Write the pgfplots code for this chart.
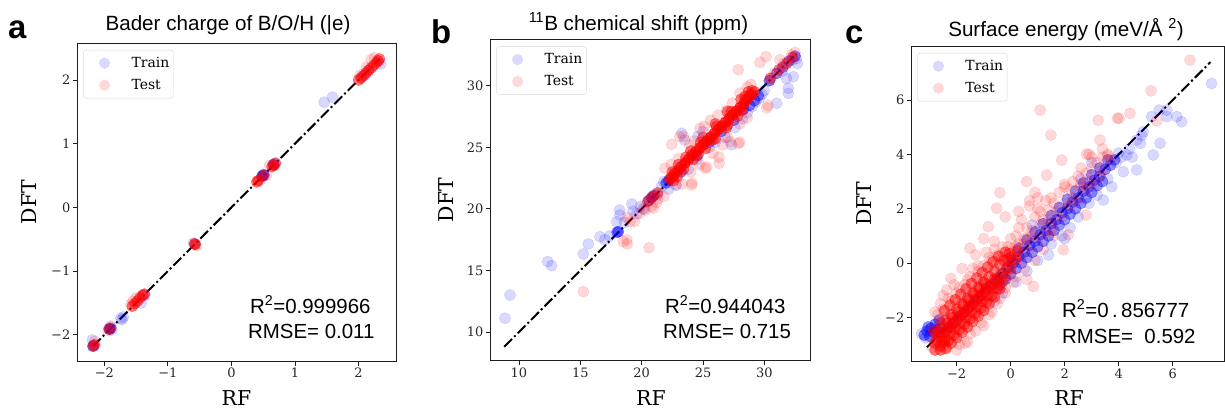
\documentclass[border=0pt]{standalone}
\usepackage{pgfplots}
\pgfplotsset{compat=1.18}
\usepackage{fontspec}
\setmainfont{DejaVu Serif}
\newfontfamily\sansf{Liberation Sans}
\definecolor{spine}{RGB}{30,30,30}
\pgfplotsset{
  panel/.style={
    scale only axis,
    axis line style={line width=0.9bp, spine},
    every tick/.style={line width=0.9bp, spine},
    tick align=outside,
    major tick length=4.5bp,
    xtick pos=lower, ytick pos=left,
    tick label style={font=\fontsize{13}{13}\selectfont, text=black!85, inner sep=2bp},
    xlabel style={font=\fontsize{20.5}{20.5}\selectfont, anchor=base},
    ylabel style={font=\fontsize{20.5}{20.5}\selectfont, anchor=base},
    legend cell align=left,
    legend style={at={(0.02,0.978)}, anchor=north west, draw=black!15, rounded corners=2.5bp,
      fill=white, font=\fontsize{14}{14}\selectfont, inner xsep=2bp, inner ysep=2bp, row sep=0bp},
  },
  mk/.style={only marks, mark=*, mark size=5.6bp, forget plot},
  trs/.style={mk, color=blue, mark options={line width=0.4bp, opacity=0.15}},
  trc/.style={mk, color=blue, mark options={line width=0.4bp, opacity=0.45}},
  trm/.style={mk, color=blue, mark options={line width=0.4bp, opacity=0.42}},
  tes/.style={mk, color=red, mark options={line width=0.4bp, opacity=0.15}},
  tec/.style={mk, color=red, mark options={line width=0.4bp, opacity=0.5}},
  diag/.style={black, line width=2bp, dash pattern=on 11bp off 3bp on 2bp off 3bp, forget plot},
  legtrain/.style={legend image code/.code={\path[draw=none,fill=none] (0bp,-11bp) rectangle (44bp,11bp); \fill[blue, opacity=0.15, draw=none] (19bp,0bp) circle (5.6bp);}},
  legtest/.style={legend image code/.code={\path[draw=none,fill=none] (0bp,-11bp) rectangle (44bp,11bp); \fill[red, opacity=0.15, draw=none] (19bp,0bp) circle (5.6bp);}},
}
\begin{document}
\begin{tikzpicture}[x=1bp,y=1bp]
\path[use as bounding box] (0,0) rectangle (1225,410);
% ---------------- panel a ----------------
\begin{axis}[panel, at={(77bp,49bp)}, anchor=south west, width=319bp, height=318bp,
  xmin=-2.43, xmax=2.59, ymin=-2.41, ymax=2.58,
  xtick={-2,-1,0,1,2}, xticklabels={−2,−1,0,1,2},
  ytick={-2,-1,0,1,2}, yticklabels={−2,−1,0,1,2},
  xlabel={RF}, ylabel={DFT},
  xlabel style={at={(axis description cs:0.5,-0.1399)}},
  ylabel style={at={(axis description cs:-0.1285,0.5)}}]
\addlegendimage{legtrain}\addlegendentry{Train}
\addlegendimage{legtest}\addlegendentry{Test}
\addplot[trs] coordinates {(-2.19,-2.08) (-2.17,-2.17) (-2.15,-2.15) (-1.93,-1.90) (-1.90,-1.88) (-1.88,-1.92)
 (-1.74,-1.74) (-1.70,-1.72) (-1.72,-1.76) (-1.42,-1.50) (-1.38,-1.37) (-1.36,-1.38) (-0.57,-0.58) (-0.60,-0.56)
 (0.48,0.48) (0.50,0.52) (0.52,0.50) (0.66,0.68) (0.70,0.70) (1.46,1.65) (1.59,1.73) (2.05,2.05) (2.15,2.15)
 (2.30,2.30) (2.35,2.25) (2.10,2.07)};
\addplot[trc] coordinates {(-1.92,-1.91) (-1.90,-1.90) (0.48,0.49) (0.51,0.51) (-2.18,-2.18) (0.66,0.67)};
\addplot[tes] coordinates {(-2.15,-2.10) (-1.55,-1.47) (-1.50,-1.42) (-1.58,-1.52) (-0.55,-0.60) (0.45,0.43)
 (0.55,0.50) (2.20,2.32) (2.25,2.35) (2.12,2.20) (-1.90,-1.86) (-1.94,-1.93) (0.60,0.66) (2.03,2.08)};
\addplot[tec] coordinates {(-2.17,-2.17) (-2.16,-2.16) (-1.56,-1.55) (-1.52,-1.51) (-1.48,-1.47) (-1.44,-1.42)
 (-1.40,-1.38) (-1.37,-1.36) (-0.58,-0.57) (-0.57,-0.58) (0.40,0.40) (0.42,0.42) (0.64,0.64) (0.67,0.66) (0.69,0.69)
 (2.00,2.00) (2.04,2.03) (2.08,2.07) (2.12,2.11) (2.16,2.15) (2.20,2.19) (2.24,2.23) (2.28,2.27) (2.31,2.30)
 (2.33,2.33) (-1.92,-1.91) (0.50,0.50)};
\addplot[diag] coordinates {(-2.18,-2.18) (2.33,2.33)};
\end{axis}
% ---------------- panel b ----------------
\begin{axis}[panel, at={(490bp,49.3bp)}, anchor=south west, width=320bp, height=321.4bp,
  xmin=7.64, xmax=33.72, ymin=7.67, ymax=33.77,
  xtick={10,15,20,25,30}, xticklabels={10,15,20,25,30},
  ytick={10,15,20,25,30}, yticklabels={10,15,20,25,30},
  xlabel={RF}, ylabel={DFT},
  xlabel style={at={(axis description cs:0.503,-0.1394)}},
  ylabel style={at={(axis description cs:-0.1156,0.5)}}]
\addlegendimage{legtrain}\addlegendentry{Train}
\addlegendimage{legtest}\addlegendentry{Test}
\addplot[trs] coordinates {(8.86,11.12) (9.27,13.0) (12.34,15.72) (12.66,15.39) (15.24,16.34) (15.65,17.15)
 (16.6,17.74) (17.0,17.5) (17.4,17.8) (17.96,18.96) (18.2,19.9) (18.23,19.5) (19.2,20.4) (19.3,19.8) (19.9,20.2)
 (18.6,18.9) (19.6,19.6) (20.2,20.0) (21.6,21.8) (21.3,21.2) (21.8,22.2) (22.2,21.6) (22.8,21.9) (23.26,26.14)
 (23.5,25.6) (25.0,26.27) (24.6,25.9) (23.8,23.2) (24.5,24.0) (25.5,25.0) (26.0,25.4) (26.8,25.8) (27.33,25.2)
 (27.6,26.6) (28.2,27.3) (28.6,27.8) (29.0,28.3) (29.3,28.7) (29.6,29.0) (29.8,29.3) (30.0,29.6) (30.46,30.46)
 (31.0,28.57) (31.8,30.6) (32.36,30.73) (31.95,29.38) (31.95,29.8) (31.5,31.2) (32.3,32.1) (32.6,32.2) (32.7,31.8)};
\addplot[trc] coordinates {(18.0,18.1) (18.1,18.15) (20.6,20.7) (20.8,20.9) (21.0,21.1) (22.0,22.1) (22.2,22.3)
 (23.2,23.0) (24.5,24.3) (25.5,25.4) (26.5,26.3) (27.5,27.2) (28.3,28.1) (28.8,28.4) (29.2,28.8) (29.5,29.2)
 (30.4,30.4) (31.0,31.0) (31.5,31.5) (32.0,32.0) (32.5,32.4)};
\addplot[tes] coordinates {(15.24,13.28) (18.5,17.33) (18.83,17.15) (18.8,17.48) (20.6,16.85) (19.05,18.96)
 (18.8,19.3) (20.1,20.05) (20.95,20.05) (20.3,19.9) (21.2,20.5) (21.8,21.0) (22.45,25.24) (23.1,25.86) (23.4,25.9)
 (24.75,26.54) (25.1,26.7) (24.07,21.94) (24.1,22.1) (25.16,23.3) (25.3,23.4) (26.32,23.7) (26.3,24.2) (27.2,25.45)
 (27.87,25.32) (28.0,25.4) (27.87,31.3) (29.64,31.9) (30.13,32.35) (31.27,32.1) (32.2,32.5) (30.19,28.2) (30.3,28.4)
 (21.9,23.3) (22.4,23.6) (23.0,24.1) (23.9,25.2) (24.3,25.5) (25.6,27.2) (26.2,27.6) (26.9,28.0) (27.4,28.6)
 (28.0,29.4) (28.6,29.9) (28.9,30.1) (23.3,22.0) (24.7,23.6) (25.8,24.5) (26.6,25.2) (27.0,25.8) (28.0,26.9)
 (28.6,27.4) (24.0,23.0) (22.8,22.0) (21.3,20.8) (20.8,20.2) (30.8,31.0) (31.6,31.8) (32.5,32.7) (19.4,19.0) (19.8,19.6)};
\addplot[tec] coordinates {(20.5,20.6) (20.9,21.0) (21.3,21.3) (22.3,22.4) (22.5,22.6) (22.7,22.9) (22.9,22.6)
 (23.1,23.3) (23.5,23.7) (23.8,24.0) (24.1,24.4) (24.4,24.6) (24.7,24.9) (25.0,25.2) (25.3,25.5) (25.6,25.8)
 (25.9,26.1) (26.2,26.4) (26.5,26.7) (26.8,27.0) (27.1,27.3) (27.4,27.6) (27.7,27.9) (28.0,28.2) (28.3,28.5)
 (28.5,28.9) (28.8,29.2) (29.0,29.6) (28.7,29.5) (24.2,24.0) (25.2,24.9) (26.0,25.7) (26.9,26.6) (27.8,27.5)
 (23.0,23.6) (24.0,24.7) (25.0,25.8) (26.0,26.9) (27.0,27.9) (28.1,28.9) (30.5,30.6) (31.2,31.3) (31.8,31.8) (32.3,32.3)
 (22.35,22.5) (22.65,22.8) (22.95,23.1) (23.25,23.45) (23.55,23.75) (23.85,24.05) (24.15,24.35) (24.45,24.65)
 (24.75,24.95) (25.05,25.25) (25.35,25.55) (25.65,25.85) (25.95,26.15) (26.25,26.45) (26.55,26.75) (26.85,27.05)
 (27.15,27.35) (27.45,27.65) (27.75,27.95) (28.05,28.25) (28.35,28.6) (28.65,28.9) (28.95,29.3) (29.2,29.5)
 (22.6,22.3) (23.4,23.2) (24.6,24.4) (25.8,25.6) (27.0,26.8) (28.2,28.0) (22.5,23.0) (23.6,24.2) (24.8,25.4)
 (26.1,26.7) (27.3,27.9) (28.4,29.1)};
\addplot[diag] coordinates {(8.8,8.8) (32.6,32.6)};
\end{axis}
% ---------------- panel c ----------------
\begin{axis}[panel, at={(911bp,48.3bp)}, anchor=south west, width=313bp, height=315.7bp,
  xmin=-3.69, xmax=7.9, ymin=-3.63, ymax=7.99,
  xtick={-2,0,2,4,6}, xticklabels={−2,0,2,4,6},
  ytick={-2,0,2,4,6}, yticklabels={−2,0,2,4,6},
  xlabel={RF}, ylabel={DFT},
  xlabel style={at={(axis description cs:0.505,-0.1387)}},
  ylabel style={at={(axis description cs:-0.126,0.5)}}]
\addlegendimage{legtrain}\addlegendentry{Train}
\addlegendimage{legtest}\addlegendentry{Test}
\addplot[trs] coordinates {(7.44,6.61) (5.78,5.63) (5.78,5.39) (6.15,5.39) (6.33,5.2) (5.22,5.39) (5.5,5.63)
 (4.91,4.83) (4.85,4.7) (5.53,4.41) (5.28,3.98) (4.67,3.43) (4.5,3.9) (4.3,3.98) (4.17,3.36) (3.74,2.81) (3.43,2.32)
 (4.67,4.53) (4.4,4.2) (4.1,3.9) (4.0,4.05) (3.9,3.7) (3.6,3.1) (3.2,2.5) (2.9,2.2) (2.5,1.7) (2.2,1.3) (1.9,1.0)
 (1.5,0.7) (1.0,0.1) (0.6,-0.3) (0.2,-0.7) (-0.3,-1.1) (-0.6,-1.4) (2.0,0.9) (1.4,0.3) (3.0,3.7) (2.6,3.1) (0.8,1.4)
 (-3.3,-2.6) (-3.15,-2.75) (4.8,4.4)};
\addplot[trc] coordinates {(-3.2,-2.65) (-3.1,-2.5) (-3.0,-2.7) (-2.95,-2.4) (-2.85,-2.55) (-2.8,-2.25) (-2.7,-2.45)
 (-2.65,-2.1) (-3.05,-2.35)};
\addplot[trm] coordinates {
 (-2.5,-2.55) (-2.3,-2.35) (-2.1,-2.2) (-1.9,-1.95) (-1.7,-1.8) (-1.5,-1.6) (-1.3,-1.35) (-1.1,-1.2) (-0.9,-0.95)
 (-0.7,-0.8) (-0.5,-0.55) (-0.3,-0.4) (-0.1,-0.15) (0.1,0.0) (0.3,0.25) (0.5,0.4) (0.7,0.65) (0.9,0.8) (1.1,1.05)
 (1.3,1.2) (1.5,1.45) (1.7,1.6) (1.9,1.85) (2.1,2.0) (2.3,2.25) (2.5,2.4) (2.7,2.65) (2.9,2.8) (3.1,3.05) (3.3,3.2)
 (3.5,3.45) (3.7,3.6) (3.85,3.8)
 (-0.4,-0.8) (-0.2,-0.6) (0.0,-0.4) (0.2,-0.2) (0.4,0.0) (0.6,0.2) (0.8,0.4) (1.0,0.6) (1.2,0.8) (1.4,1.0) (1.6,1.2)
 (1.8,1.4) (2.0,1.6) (2.2,1.8) (2.4,2.0) (2.6,2.2) (2.8,2.4) (3.0,2.6) (3.2,2.85) (3.4,3.0)
 (0.0,0.2) (0.3,0.55) (0.6,0.85) (0.9,1.15) (1.2,1.45) (1.5,1.75) (1.8,2.05) (2.1,2.35) (2.4,2.65) (2.7,2.95)
 (3.0,3.25) (3.3,3.5) (3.6,3.8)};
\addplot[tes] coordinates {(6.64,7.47) (5.2,6.34) (1.09,5.63) (3.24,5.26) (4.01,5.33) (3.95,5.33) (4.42,5.51)
 (5.41,5.24) (1.49,4.71) (3.31,4.53) (1.89,3.79) (2.81,4.01) (2.9,4.0) (1.33,3.24) (0.59,3.0) (-0.4,2.59) (-0.52,2.02)
 (-0.83,1.34) (-1.51,0.55) (-2.21,-0.56) (-2.37,-0.99) (-2.37,-3.07) (-1.69,-2.95) (0.9,2.6) (1.0,2.4) (0.7,2.3)
 (2.6,3.5) (3.0,3.9) (3.4,4.2) (3.6,4.0) (0.3,1.9) (-0.2,1.7) (-1.0,0.9) (-1.3,0.3) (-1.8,-0.2) (1.5,1.2) (2.0,2.9)
 (3.3,3.2)
 (0.1,0.4) (0.3,0.7) (0.5,0.9) (0.2,1.0) (0.6,1.3) (0.8,1.2) (0.4,1.6) (0.9,1.7) (1.0,2.0) (1.2,1.6) (1.3,2.3)
 (1.5,2.4) (1.6,2.2) (0.7,2.1) (0.0,0.9) (-0.3,0.6) (-0.5,0.3) (-0.6,0.8) (-0.8,0.2) (-1.0,-0.1) (-1.2,-0.3)
 (-1.5,-0.5) (-1.7,-0.8) (-2.0,-1.1) (-2.2,-1.4) (-2.5,-1.7) (-2.6,-1.5) (-2.4,-3.1) (-2.0,-3.2) (-1.6,-2.9)
 (-1.3,-2.5) (-1.0,-2.3) (-0.7,-1.8) (-0.4,-1.3) (-0.2,-0.9) (0.2,-0.5) (0.5,-0.2) (0.84,-0.86) (0.6,-0.6) (0.9,0.1)
 (1.2,0.5) (1.95,0.49) (2.13,1.04) (2.79,1.77) (1.6,1.0) (1.8,2.6) (2.0,2.8) (2.3,3.0) (2.6,2.9) (2.8,3.3) (3.0,3.5)
 (3.2,3.7) (3.4,3.9) (3.6,3.95) (3.7,3.8) (2.2,2.7) (2.5,3.2) (1.1,1.9) (1.4,1.95) (0.3,1.3)
 (-2.9,-3.1) (-2.7,-1.9) (-2.3,-1.3) (-1.9,-0.9) (-1.6,-0.6) (-1.2,-0.1) (-0.9,0.4) (-0.6,0.5) (-0.1,0.6)
 (-1.9,-3.0) (-1.5,-2.6) (-1.1,-2.2) (-0.8,-1.9) (-0.5,-1.5) (-0.2,-1.1) (0.1,-0.7)
 (0.4,0.2) (0.7,0.5) (1.0,0.9) (1.3,1.1) (1.6,1.5) (1.9,1.7) (2.2,2.1) (2.5,2.3) (2.8,2.7) (3.1,2.9) (3.4,3.4)
 (0.6,0.9) (1.1,1.4) (1.7,1.9) (2.3,2.4) (2.9,3.0) (-2.1,-0.8) (-1.4,-0.2) (-0.7,0.1) (-2.8,-1.8) (-2.5,-1.2)
 (0.2,0.6) (0.5,0.7) (0.8,1.0) (1.4,1.6) (2.0,2.2) (2.6,2.8) (-0.3,0.2) (0.0,0.5)};
\addplot[tec] coordinates {(-2.8,-3.2) (-2.75,-2.85) (-2.85,-2.5)
 (-2.6,-3.2) (-2.55,-2.9) (-2.65,-2.55) (-2.6,-2.2)
 (-2.4,-3.15) (-2.45,-2.8) (-2.35,-2.45) (-2.4,-2.1) (-2.45,-1.75)
 (-2.2,-2.95) (-2.25,-2.6) (-2.15,-2.25) (-2.2,-1.9) (-2.25,-1.55)
 (-2.0,-2.75) (-2.05,-2.4) (-1.95,-2.05) (-2.0,-1.7) (-2.05,-1.35)
 (-1.8,-2.55) (-1.85,-2.2) (-1.75,-1.85) (-1.8,-1.5) (-1.85,-1.15)
 (-1.6,-2.35) (-1.65,-2.0) (-1.55,-1.65) (-1.6,-1.3) (-1.65,-0.95)
 (-1.4,-2.15) (-1.45,-1.8) (-1.35,-1.45) (-1.4,-1.1) (-1.45,-0.75)
 (-1.2,-1.95) (-1.25,-1.6) (-1.15,-1.25) (-1.2,-0.9) (-1.25,-0.55)
 (-1.0,-1.75) (-1.05,-1.4) (-0.95,-1.05) (-1.0,-0.7) (-1.05,-0.35)
 (-0.8,-1.5) (-0.85,-1.2) (-0.75,-0.85) (-0.8,-0.5) (-0.85,-0.15)
 (-0.6,-1.25) (-0.65,-0.95) (-0.55,-0.65) (-0.6,-0.3) (-0.65,0.05)
 (-0.4,-0.95) (-0.45,-0.7) (-0.35,-0.4) (-0.4,-0.05) (-0.45,0.25)
 (-0.2,-0.5) (-0.15,-0.2) (-0.25,0.1) (-0.2,0.4)
 (0.0,-0.2) (0.05,0.1) (-0.05,0.35) (0.2,0.15) (0.25,0.45)
 (-2.8,-2.95) (-2.75,-2.6) (-2.6,-3.05) (-2.6,-2.75) (-2.55,-2.4) (-2.45,-2.9) (-2.4,-2.55) (-2.35,-2.2)
 (-2.3,-2.85) (-2.2,-2.35) (-2.15,-2.0) (-2.1,-2.65) (-2.0,-2.1) (-1.95,-1.8) (-1.9,-2.45) (-1.8,-1.9)
 (-1.75,-1.55) (-1.7,-2.25) (-1.6,-1.7) (-1.55,-1.35) (-1.5,-2.05) (-1.4,-1.5) (-1.35,-1.15) (-1.3,-1.85)
 (-1.2,-1.3) (-1.15,-0.95) (-1.1,-1.65) (-1.0,-1.1) (-0.95,-0.75) (-0.9,-1.45) (-0.8,-0.85) (-0.7,-1.2)
 (-0.6,-0.6) (-0.5,-0.95) (-0.3,-0.7) (-0.1,0.15)};
\addplot[diag] coordinates {(-3.1,-3.1) (7.4,7.4)};
\end{axis}
% ---------------- texts ----------------
\node[font=\sansf\fontsize{20.7}{20.7}\selectfont, anchor=base] at (228,380) {Bader charge of B/O/H (|e)};
\node[font=\sansf\fontsize{20.7}{20.7}\selectfont, anchor=base] at (638.5,380) {\textsuperscript{11}B chemical shift (ppm)};
\node[font=\sansf\fontsize{20.7}{20.7}\selectfont, anchor=base] at (1066,374) {Surface energy (meV/Å\ \textsuperscript{2})};
\node[font=\sansf\bfseries\fontsize{33}{33}\selectfont, anchor=base west, inner sep=0pt] at (8,372) {a};
\node[font=\sansf\bfseries\fontsize{33}{33}\selectfont, anchor=base west, inner sep=0pt] at (431,367) {b};
\node[font=\sansf\bfseries\fontsize{33}{33}\selectfont, anchor=base west, inner sep=0pt] at (845,367) {c};
\begin{scope}[every node/.style={font=\sansf\fontsize{20.5}{20.5}\selectfont, anchor=base west, inner sep=0pt}]
\node at (250,97) {R\textsuperscript{2}=0.999966};
\node at (248,72) {RMSE= 0.011};
\node at (665,97) {R\textsuperscript{2}=0.944043};
\node at (663,72) {RMSE= 0.715};
\node at (1062,93) {R\textsuperscript{2}=0\,.\,856777};
\node at (1062,67) {RMSE=\ \ 0.592};
\end{scope}
\end{tikzpicture}
\end{document}
